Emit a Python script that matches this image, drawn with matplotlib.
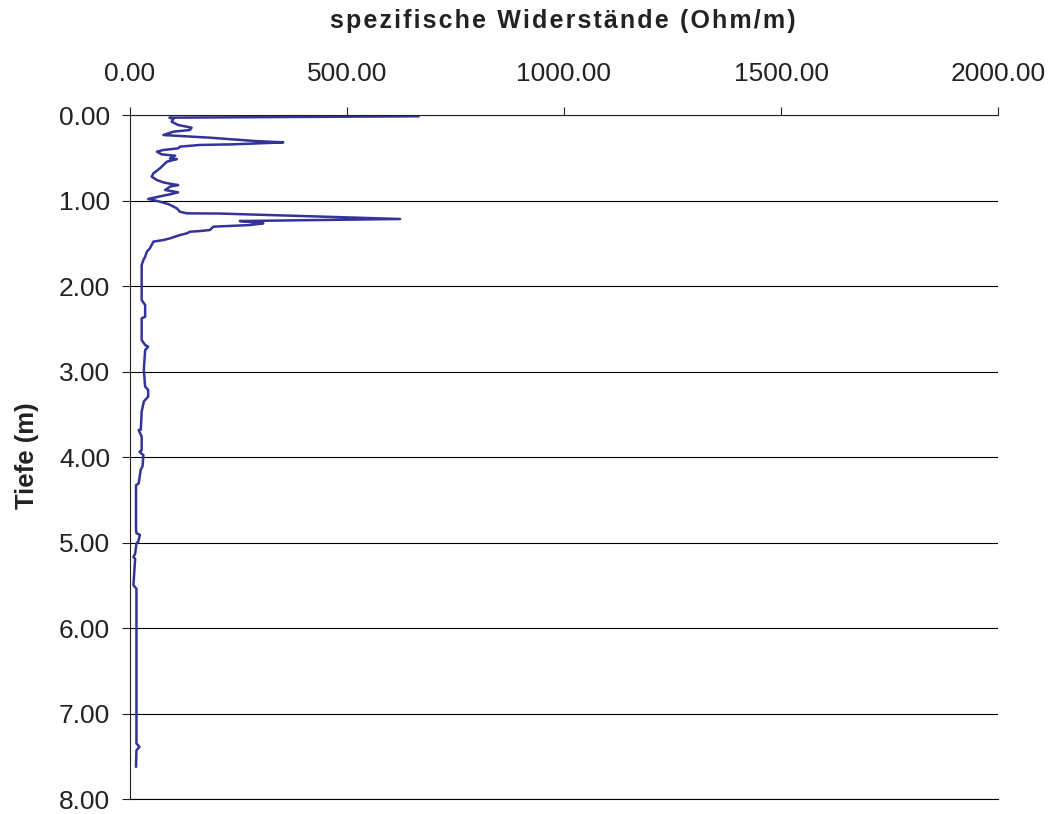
'''
Widerstandsprofil: spezifische Widerstaende ueber der Tiefe
'''
import matplotlib
matplotlib.use('Agg')
import matplotlib.pyplot as plt

# Tiefe in m
depth = [0.015, 0.031, 0.047, 0.078, 0.117, 0.148, 0.175, 0.195, 0.234, 0.265,
         0.304, 0.320, 0.343, 0.350, 0.370, 0.390, 0.409, 0.429, 0.460, 0.476,
         0.507, 0.515, 0.546, 0.585, 0.624, 0.682, 0.721, 0.760, 0.788, 0.807,
         0.819, 0.838, 0.877, 0.904, 0.928, 0.943, 0.982, 0.994, 1.014, 1.041,
         1.060, 1.092, 1.131, 1.150, 1.152, 1.216, 1.240, 1.255, 1.267, 1.287,
         1.306, 1.345, 1.357, 1.365, 1.384, 1.404, 1.443, 1.462, 1.481, 1.520,
         1.559, 1.598, 1.657, 1.696, 1.754, 2.164, 2.222, 2.360, 2.378, 2.632,
         2.690, 2.710, 2.750, 2.980, 3.177, 3.216, 3.294, 3.350, 3.470, 3.680,
         3.685, 3.760, 3.920, 3.940, 3.978, 4.110, 4.145, 4.310, 4.330, 4.850,
         4.890, 4.910, 4.990, 5.010, 5.130, 5.170, 5.190, 5.500, 5.540, 7.350,
         7.390, 7.430, 7.620]

# spezifischer Widerstand in Ohm/m
resist = [665, 92, 101, 97, 112, 143, 139, 101, 78, 185,
          289, 354, 239, 162, 116, 112, 78, 63, 74, 105,
          93, 109, 86, 78, 70, 55, 51, 63, 78, 97,
          112, 93, 82, 112, 93, 78, 43, 55, 70, 89,
          97, 109, 116, 132, 205, 623, 254, 285, 308, 277,
          193, 185, 162, 139, 132, 116, 93, 78, 55, 51,
          47, 40, 36, 32, 28, 28, 36, 36, 28, 28,
          36, 43, 36, 33, 36, 43, 43, 33, 28, 26,
          21, 28, 28, 23, 32, 30, 26, 21, 15, 15,
          16, 24, 20, 16, 13, 9, 13, 9, 16, 16,
          23, 16, 15]

x_ticks = [0, 500, 1000, 1500, 2000]
y_ticks = [0, 1, 2, 3, 4, 5, 6, 7, 8]

title = 'spezifische Widerstände (Ohm/m)'
ylabel = 'Tiefe (m)'


def spaced(text):
    # Excel-Titel sind leicht gesperrt -> Haarspatium zwischen die Zeichen
    return '\u200a'.join(text)


plt.rcParams['font.family'] = ['Liberation Sans', 'DejaVu Sans']

fig = plt.figure(figsize=(10.52, 8.14), dpi=100)
ax = fig.add_axes([0.1231, 0.0184, 0.8258, 0.8403])

ax.plot(resist, depth, color='#333399', linewidth=1.8)

ax.set_xlim(0, 2000)
ax.set_ylim(8, 0)
ax.set_xticks(x_ticks)
ax.set_yticks(y_ticks)
ax.set_xticklabels(['%.2f' % v for v in x_ticks])
ax.set_yticklabels(['%.2f' % v for v in y_ticks])

ax.xaxis.tick_top()
ax.tick_params(axis='x', direction='out', length=6, width=0.8, pad=15,
               labelsize=19, colors='#222222')
ax.tick_params(axis='y', direction='out', length=6, width=0.8, pad=8,
               labelsize=19, colors='#222222')

ax.yaxis.grid(True, color='black', linewidth=0.8)
ax.set_axisbelow(True)
ax.spines['right'].set_visible(False)
for side in ['left', 'top', 'bottom']:
    ax.spines[side].set_linewidth(0.8)
    ax.spines[side].set_color('#222222')
ax.spines['bottom'].set_color('black')

fig.text(0.535, 0.974, spaced(title), ha='center', va='center',
         fontsize=18, fontweight='bold', color='#222222',
         family=['Liberation Sans', 'DejaVu Sans'])
fig.text(0.026, 0.44, ylabel, ha='center', va='center', rotation=90,
         fontsize=18.5, fontweight='bold', color='#222222')

fig.savefig('out.png', dpi=100)
